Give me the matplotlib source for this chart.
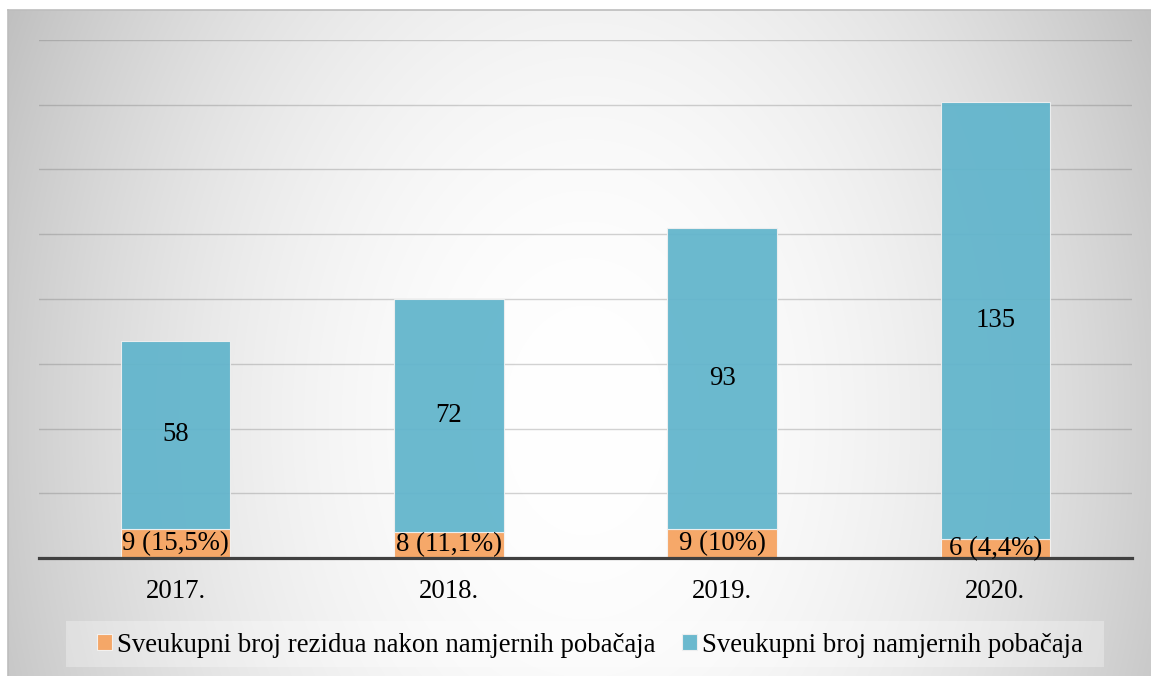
import numpy as np
import matplotlib
matplotlib.use("Agg")
import matplotlib.pyplot as plt
from matplotlib.patches import Rectangle

plt.rcParams['font.family'] = ['Liberation Serif', 'DejaVu Serif']

years = ["2017.", "2018.", "2019.", "2020."]
residua = [9, 8, 9, 6]
residua_labels = ["9 (15,5%)", "8 (11,1%)", "9 (10%)", "6 (4,4%)"]
pobacaji = [58, 72, 93, 135]
series_names = ["Sveukupni broj rezidua nakon namjernih pobačaja",
                "Sveukupni broj namjernih pobačaja"]
orange = "#F6A461"
teal = "#62B5CC"
FS = 19.3

W, H = 1151, 676
fig = plt.figure(figsize=(W / 100, H / 100), dpi=100)

# background radial gradient
bx0, by0 = 8, 10
bg = fig.add_axes([bx0 / W, 0, 1 - bx0 / W, 1 - by0 / H], zorder=-5)
nx, ny = W - bx0, H - by0
xx, yy = np.meshgrid(np.arange(nx) + bx0, np.arange(ny) + by0)
cx, cy = 585, 420
r2 = ((xx - cx) / 580.0) ** 2 + ((yy - cy) / 820.0) ** 2
v = np.clip(1.0 - 0.2 * r2, 0.74, 1)
img = np.dstack([v, v, v])
bg.imshow(img, aspect='auto', extent=(0, 1, 0, 1), interpolation='bilinear')
bg.set_axis_off()
fig.add_artist(plt.Line2D([bx0 / W, 1], [1 - by0 / H, 1 - by0 / H],
                          transform=fig.transFigure, color='#bdbdbd', lw=1.2))
fig.add_artist(plt.Line2D([bx0 / W, bx0 / W], [0, 1 - by0 / H],
                          transform=fig.transFigure, color='#bdbdbd', lw=1.2))

# main axes
ax = fig.add_axes([39 / W, (H - 558) / H, 1093 / W, (558 - 40) / H])
ax.patch.set_alpha(0)
x = np.arange(len(years))
ax.bar(x, residua, width=0.4, color=orange, edgecolor='#f4f4f4', linewidth=0.8,
       alpha=0.95, zorder=2, label=series_names[0])
ax.bar(x, pobacaji, width=0.4, bottom=residua, color=teal, edgecolor='#f0f0f0',
       linewidth=0.8, alpha=0.94, zorder=2, label=series_names[1])

for i in range(len(years)):
    ax.text(x[i], residua[i] / 2, residua_labels[i], ha='center', va='center',
            fontsize=FS, color='black', zorder=4)
    ax.text(x[i], residua[i] + pobacaji[i] / 2, str(pobacaji[i]), ha='center',
            va='center', fontsize=FS, color='black', zorder=4)

ax.set_xlim(-0.5, len(years) - 0.5)
ax.set_ylim(0, 160)
ax.set_yticks(np.arange(0, 161, 20))
ax.yaxis.grid(True, color='#606060', alpha=0.28, linewidth=1.0, zorder=0)
ax.set_axisbelow(True)
ax.tick_params(axis='y', left=False, labelleft=False)
ax.set_xticks(x)
ax.set_xticklabels(years, fontsize=FS)
ax.tick_params(axis='x', length=0, pad=15)
for s in ['top', 'right', 'left']:
    ax.spines[s].set_visible(False)
ax.spines['bottom'].set_color('#404040')
ax.spines['bottom'].set_linewidth(2.3)
ax.spines['bottom'].set_zorder(3)

# legend
lx0, lx1, ly0, ly1 = 66, 1104, 621, 667
fig.add_artist(Rectangle((lx0 / W, 1 - ly1 / H), (lx1 - lx0) / W, (ly1 - ly0) / H,
                         transform=fig.transFigure, facecolor='white', alpha=0.3,
                         edgecolor='none', zorder=1))
handles, labels = ax.get_legend_handles_labels()
leg = fig.legend(handles, labels, loc='center', ncol=2, frameon=False,
                 bbox_to_anchor=(590 / W, 1 - 645 / H), fontsize=FS,
                 handlelength=0.55, handleheight=0.55, handletextpad=0.2,
                 columnspacing=1.0)
fig.savefig("out.png", dpi=100)
